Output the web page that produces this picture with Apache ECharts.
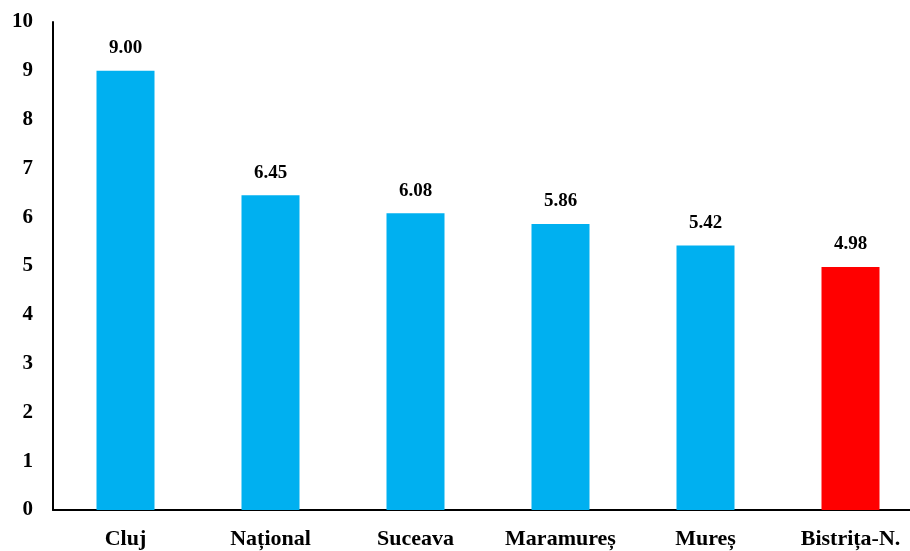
<!DOCTYPE html>
<html><head><meta charset="utf-8">
<script src="https://cdn.jsdelivr.net/npm/echarts@6/dist/echarts.min.js"></script>
<style>html,body{margin:0;padding:0;background:#fff;overflow:hidden;width:910px;height:551px}#c{width:923px;height:551px}</style>
</head><body><div id="c"></div>
<script>
const categories = ['Cluj', 'Național', 'Suceava', 'Maramureș', 'Mureș', 'Bistrița-N.'];
const values = [9.00, 6.45, 6.08, 5.86, 5.42, 4.98];
const barColors = ['#00B0F0', '#00B0F0', '#00B0F0', '#00B0F0', '#00B0F0', '#FF0000'];
const yTicks = [0, 1, 2, 3, 4, 5, 6, 7, 8, 9, 10];

const font = 'Liberation Serif, Times New Roman, serif';
const chart = echarts.init(document.getElementById('c'));
chart.setOption({
  animation: false,
  grid: { left: 53, right: 0, top: 22, bottom: 41, containLabel: false },
  xAxis: {
    type: 'category', data: categories,
    axisLine: { lineStyle: { color: '#000', width: 2 } },
    axisTick: { show: false },
    axisLabel: { fontFamily: font, fontWeight: 'bold', fontSize: 22, color: '#000', margin: 18 }
  },
  yAxis: {
    type: 'value', min: yTicks[0], max: yTicks[yTicks.length - 1], interval: 1,
    axisLine: { show: true, lineStyle: { color: '#000', width: 2 } },
    axisTick: { show: false },
    splitLine: { show: false },
    axisLabel: { fontFamily: font, fontWeight: 'bold', fontSize: 21, color: '#000', margin: 20 }
  },
  series: [{
    type: 'bar', barWidth: 58,
    data: values.map((v, i) => ({ value: v, itemStyle: { color: barColors[i] } })),
    label: {
      show: true, position: 'top', distance: 13,
      fontFamily: font, fontWeight: 'bold', fontSize: 19, color: '#000',
      formatter: p => p.value.toFixed(2)
    }
  }]
});
</script></body></html>
